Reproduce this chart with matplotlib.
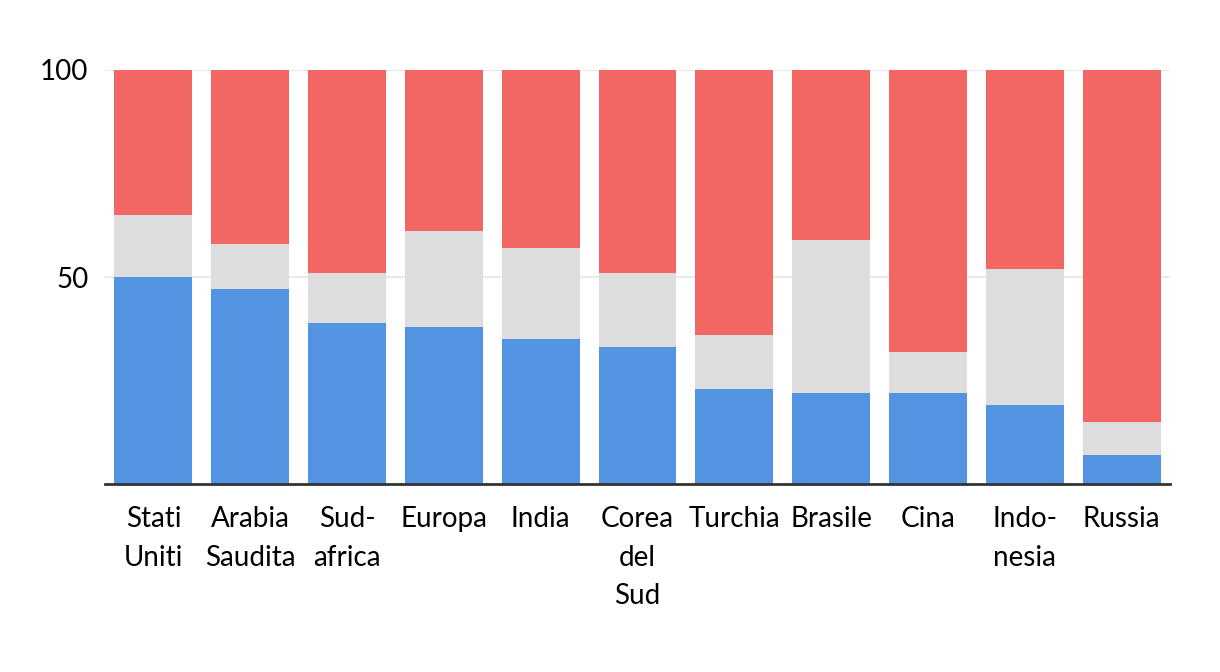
import matplotlib
matplotlib.use("Agg")
import matplotlib.pyplot as plt
import numpy as np

plt.rcParams['font.family'] = ['Lato', 'DejaVu Sans']

countries = ["Stati\nUniti", "Arabia\nSaudita", "Sud-\nafrica", "Europa", "India",
             "Corea\ndel\nSud", "Turchia", "Brasile", "Cina", "Indo-\nnesia", "Russia"]
blue_vals = [50, 47, 39, 38, 35, 33, 23, 22, 22, 19, 7]
gray_vals = [15, 11, 12, 23, 22, 18, 13, 37, 10, 33, 8]
red_vals = [35, 42, 49, 39, 43, 49, 64, 41, 68, 48, 85]

c_blue = "#5294E2"
c_gray = "#DDDDDD"
c_red = "#F26764"

fig = plt.figure(figsize=(12.2, 6.72), dpi=100)
ax = fig.add_axes([105 / 1220, 1 - 484 / 672, 1065 / 1220, 414 / 672])

x = np.arange(len(countries))
w = 0.805
blue = np.array(blue_vals)
gray = np.array(gray_vals)
red = np.array(red_vals)
ax.bar(x, blue, w, color=c_blue, zorder=2)
ax.bar(x, gray, w, bottom=blue, color=c_gray, zorder=2)
ax.bar(x, red, w, bottom=blue + gray, color=c_red, zorder=2)

ax.set_xlim(-0.5, 10.5)
ax.set_ylim(0, 100)
ax.set_yticks([50, 100])
ax.set_yticklabels(["50", "100"])
ax.grid(axis='y', color="#E6E6E6", linewidth=1.2, zorder=0)
ax.set_xticks(x)
ax.set_xticklabels(countries, linespacing=1.6)

for s in ["top", "right", "left"]:
    ax.spines[s].set_visible(False)
ax.spines["bottom"].set_color("#333333")
ax.spines["bottom"].set_linewidth(2)
ax.spines["bottom"].set_zorder(3)
ax.tick_params(axis='both', length=0, labelsize=20, colors="black")
ax.tick_params(axis='x', pad=16)
ax.tick_params(axis='y', pad=12)

fig.savefig("out.png", dpi=100)
